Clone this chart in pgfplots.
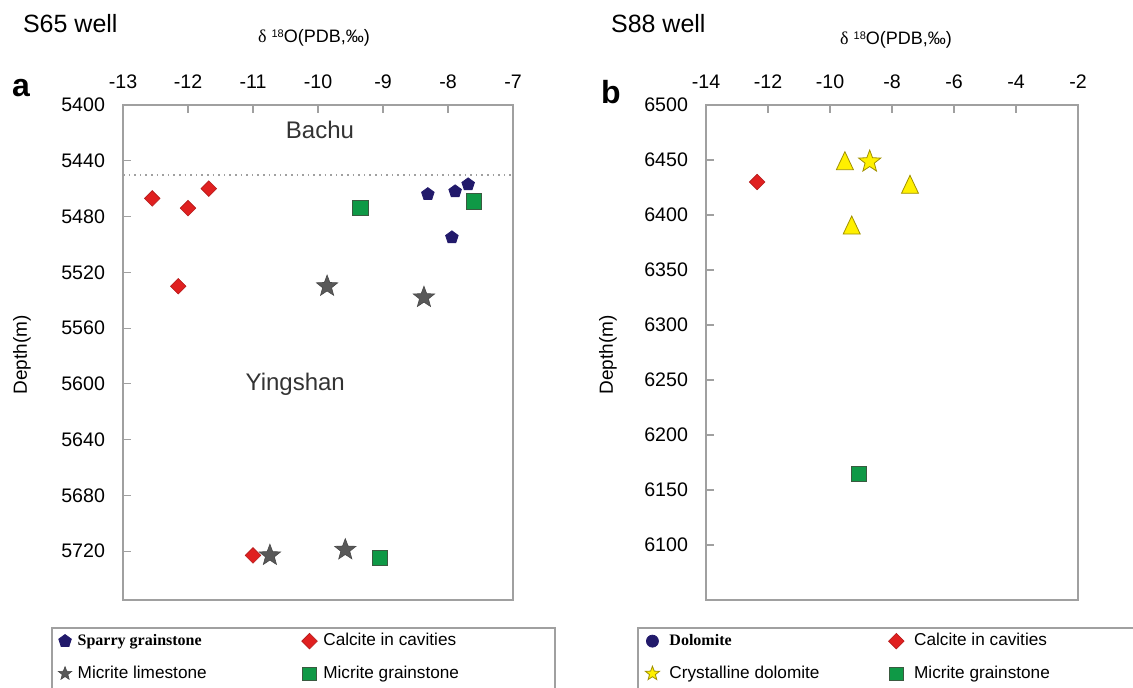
\documentclass[border=0pt]{standalone}
\usepackage{fontspec}
\setmainfont{Liberation Sans}
\newfontfamily\serifb{Liberation Serif}
\usepackage{pgfplots}
\pgfplotsset{compat=1.18}

\definecolor{navy}{HTML}{221A6B}
\definecolor{mred}{HTML}{E02020}
\definecolor{sgrey}{HTML}{595959}
\definecolor{mgreen}{HTML}{0F9946}
\definecolor{mgreenedge}{HTML}{3A5A40}
\definecolor{myellow}{HTML}{FFF000}
\definecolor{myellowedge}{HTML}{A09000}
\definecolor{framec}{HTML}{A0A0A0}

\pgfdeclareplotmark{fstar}{%
 \pgfpathmoveto{\pgfpointpolar{90}{\pgfplotmarksize}}%
 \pgfpathlineto{\pgfpointpolar{126}{0.42\pgfplotmarksize}}%
 \pgfpathlineto{\pgfpointpolar{162}{\pgfplotmarksize}}%
 \pgfpathlineto{\pgfpointpolar{198}{0.42\pgfplotmarksize}}%
 \pgfpathlineto{\pgfpointpolar{234}{\pgfplotmarksize}}%
 \pgfpathlineto{\pgfpointpolar{270}{0.42\pgfplotmarksize}}%
 \pgfpathlineto{\pgfpointpolar{306}{\pgfplotmarksize}}%
 \pgfpathlineto{\pgfpointpolar{342}{0.42\pgfplotmarksize}}%
 \pgfpathlineto{\pgfpointpolar{18}{\pgfplotmarksize}}%
 \pgfpathlineto{\pgfpointpolar{54}{0.42\pgfplotmarksize}}%
 \pgfpathclose
 \pgfusepathqfillstroke
}
\pgfdeclareplotmark{fpent}{%
 \pgfpathmoveto{\pgfpointpolar{90}{\pgfplotmarksize}}%
 \pgfpathlineto{\pgfpointpolar{162}{\pgfplotmarksize}}%
 \pgfpathlineto{\pgfpointpolar{234}{\pgfplotmarksize}}%
 \pgfpathlineto{\pgfpointpolar{306}{\pgfplotmarksize}}%
 \pgfpathlineto{\pgfpointpolar{18}{\pgfplotmarksize}}%
 \pgfpathclose
 \pgfusepathqfillstroke
}
\pgfdeclareplotmark{ftri}{%
 \pgfpathmoveto{\pgfpoint{0pt}{\pgfplotmarksize}}%
 \pgfpathlineto{\pgfpoint{-0.85\pgfplotmarksize}{-0.8\pgfplotmarksize}}%
 \pgfpathlineto{\pgfpoint{0.85\pgfplotmarksize}{-0.8\pgfplotmarksize}}%
 \pgfpathclose
 \pgfusepathqfillstroke
}
\pgfdeclareplotmark{fdiam}{%
 \pgfpathmoveto{\pgfpoint{0pt}{\pgfplotmarksize}}%
 \pgfpathlineto{\pgfpoint{-\pgfplotmarksize}{0pt}}%
 \pgfpathlineto{\pgfpoint{0pt}{-\pgfplotmarksize}}%
 \pgfpathlineto{\pgfpoint{\pgfplotmarksize}{0pt}}%
 \pgfpathclose
 \pgfusepathqfillstroke
}

\pgfplotsset{
 myaxis/.style={
  scale only axis, clip=false,
  axis line style={draw=framec, line width=0.75pt},
  tick style={draw=framec, line width=0.6pt},
  tick align=inside, major tick length=4pt,
  xtick pos=right, xticklabel pos=right,
  ytick pos=left, yticklabel pos=left,
  /pgf/number format/assume math mode=true,
  /pgf/number format/1000 sep={},
  ticklabel style={font=\fontsize{9.8}{11}\selectfont},
  xticklabel style={yshift=4.5pt},
  yticklabel style={xshift=-5.5pt},
  legend cell align=left,
  legend columns=2,
  legend image code/.code={\draw[##1] plot coordinates {(0pt,0pt)};},
  legend style={draw=none, fill=none, inner sep=0pt,
    font=\fontsize{8.6}{10}\selectfont, row sep=4.5pt},
 }
}

\begin{document}
\begin{tikzpicture}
% ---------------- Panel a ----------------
\begin{axis}[myaxis, at={(61.5pt,43.5pt)}, anchor=south west,
  width=195pt, height=247.5pt,
  xmin=-13, xmax=-7, ymin=5400, ymax=5755, y dir=reverse,
  xtick={-13,-12,...,-7}, ytick={5400,5440,...,5720},
  legend style={at={(-0.1667,-0.0586)}, anchor=north west,
    /tikz/every odd column/.append style={column sep=1pt},
    /tikz/every even column/.append style={column sep=45.5pt}}]
\addplot[dotted, draw=framec, line width=0.8pt, forget plot] coordinates {(-13,5450) (-7,5450)};
\addplot[only marks, mark=fpent, mark size=3.3pt, mark options={fill=navy, draw=navy},
  legend image post style={mark size=3.3pt}]
  coordinates {(-8.31,5464) (-7.89,5462) (-7.69,5457) (-7.94,5495)};
\addlegendentry{{\fontsize{8}{10}\selectfont\serifb\bfseries Sparry grainstone}}
\addplot[only marks, mark=fdiam, mark size=3.9pt, mark options={fill=mred, draw=mred!80!black, line width=0.3pt},
  legend image post style={mark size=3.9pt}]
  coordinates {(-12.55,5467) (-12.0,5474) (-11.68,5460) (-12.15,5530) (-11.0,5723)};
\addlegendentry{Calcite in cavities}
\addplot[only marks, mark=fstar, mark size=5.6pt, mark options={fill=sgrey, draw=sgrey!80!black, line width=0.3pt},
  legend image post style={mark size=3.5pt}]
  coordinates {(-9.86,5530) (-8.37,5538) (-10.74,5723) (-9.58,5719)};
\addlegendentry{Micrite limestone}
\addplot[only marks, mark=square*, mark size=3.8pt, mark options={fill=mgreen, draw=mgreenedge, line width=0.3pt},
  legend image post style={mark size=3.4pt}]
  coordinates {(-9.35,5474) (-7.6,5469) (-9.05,5725)};
\addlegendentry{Micrite grainstone}
\node[font=\fontsize{12}{14}\selectfont, text=black!80] at (axis cs:-9.97,5418) {Bachu};
\node[font=\fontsize{12}{14}\selectfont, text=black!80] at (axis cs:-10.35,5600) {Yingshan};
\end{axis}

% ---------------- Panel b ----------------
\begin{axis}[myaxis, at={(353pt,43.5pt)}, anchor=south west,
  width=186pt, height=247.5pt,
  xmin=-14, xmax=-2, ymin=6050, ymax=6500,
  xtick={-14,-12,...,-2}, ytick={6100,6150,...,6500},
  legend style={at={(-0.164,-0.0586)}, anchor=north west,
    /tikz/every odd column/.append style={column sep=3pt},
    /tikz/every even column/.append style={column sep=32.5pt}}]
\addlegendimage{only marks, mark=*, mark size=3pt, mark options={fill=navy, draw=navy}}
\addlegendentry{{\fontsize{8}{10}\selectfont\serifb\bfseries Dolomite}}
\addplot[only marks, mark=fdiam, mark size=3.9pt, mark options={fill=mred, draw=mred!80!black, line width=0.3pt},
  legend image post style={mark size=3.9pt}]
  coordinates {(-12.35,6430)};
\addlegendentry{Calcite in cavities}
\addplot[only marks, mark=fstar, mark size=5.8pt, mark options={fill=myellow, draw=myellowedge, line width=0.4pt},
  legend image post style={mark size=3.7pt}]
  coordinates {(-8.72,6448.5)};
\addlegendentry{Crystalline dolomite}
\addplot[only marks, mark=square*, mark size=3.8pt, mark options={fill=mgreen, draw=mgreenedge, line width=0.3pt},
  legend image post style={mark size=3.4pt}]
  coordinates {(-9.08,6165)};
\addlegendentry{Micrite grainstone}
\addplot[only marks, mark=ftri, mark size=5pt, mark options={fill=myellow, draw=myellowedge, line width=0.4pt}, forget plot]
  coordinates {(-9.52,6448.5) (-7.42,6427) (-9.3,6390)};
\end{axis}

% ---------------- texts ----------------
\node[anchor=west, font=\fontsize{12.5}{14}\selectfont] at (8pt,331.5pt) {S65 well};
\node[anchor=west, font=\fontsize{12.5}{14}\selectfont] at (302pt,331.5pt) {S88 well};
\node[font=\fontsize{9}{10}\selectfont] at (157pt,324.5pt) {{\serifb δ}\ \raisebox{0.55ex}{\fontsize{5.5}{6}\selectfont 18}O(PDB,‰)};
\node[font=\fontsize{9}{10}\selectfont] at (448pt,323.5pt) {{\serifb δ}\ \raisebox{0.55ex}{\fontsize{5.5}{6}\selectfont 18}O(PDB,‰)};
\node[font=\fontsize{16}{18}\selectfont\bfseries] at (10.5pt,299.5pt) {a};
\node[font=\fontsize{16}{18}\selectfont\bfseries] at (305.5pt,297.5pt) {b};
\node[rotate=90, font=\fontsize{9.5}{11}\selectfont] at (11pt,166pt) {Depth(m)};
\node[rotate=90, font=\fontsize{9.5}{11}\selectfont] at (304pt,166pt) {Depth(m)};

% legend frames
\draw[framec, line width=0.75pt] (26pt,-20pt) -- (26pt,29.5pt) -- (277.5pt,29.5pt) -- (277.5pt,-20pt);
\draw[framec, line width=0.75pt] (319pt,-20pt) -- (319pt,29.5pt) -- (590pt,29.5pt);

\pgfresetboundingbox
\useasboundingbox (0pt,0pt) rectangle (566.5pt,343.5pt);
\end{tikzpicture}
\end{document}
